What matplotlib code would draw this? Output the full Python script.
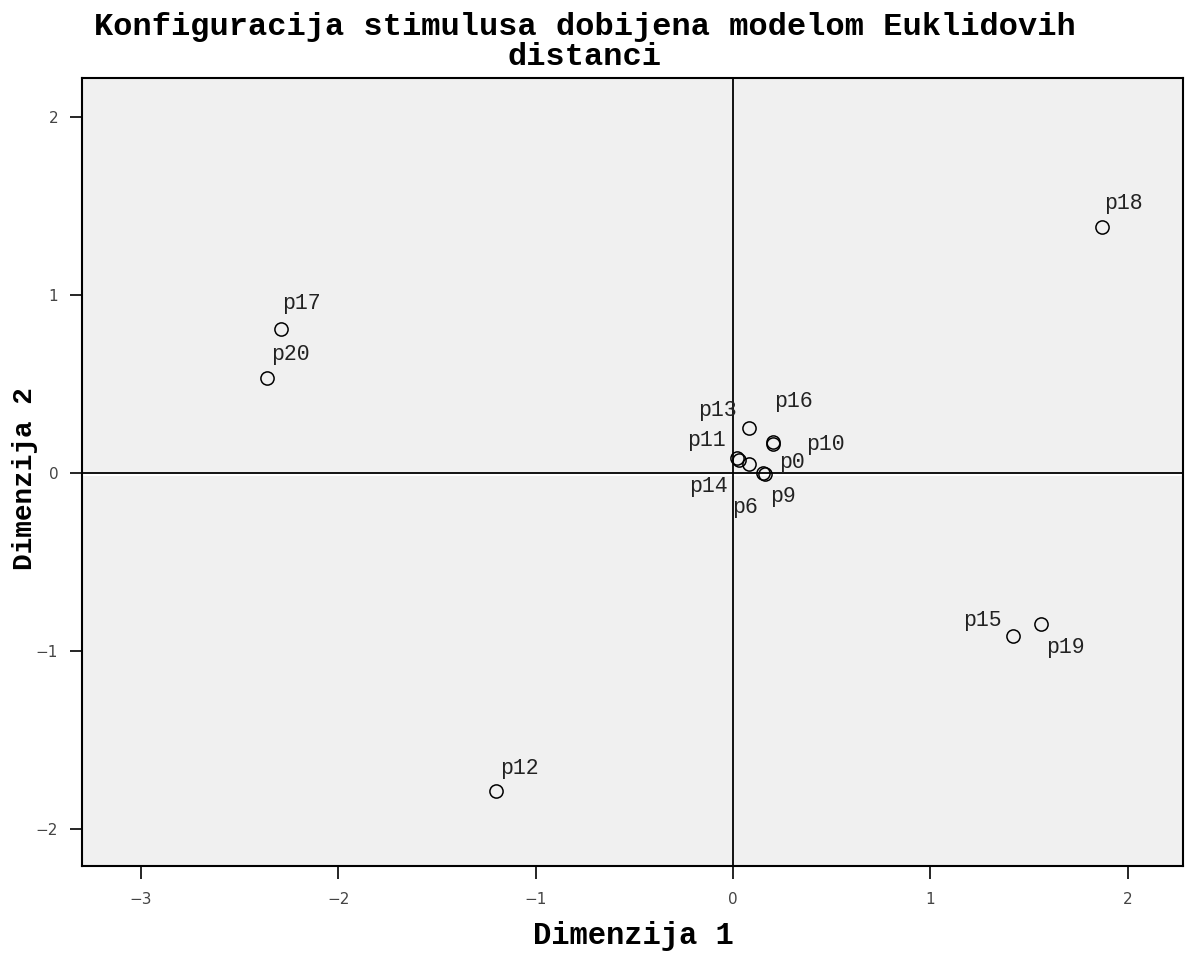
import matplotlib.pyplot as plt

# MDS stimulus configuration (Euclidean distance model)
labels = ["p0", "p6", "p9", "p10", "p11", "p12", "p13", "p14",
          "p15", "p16", "p17", "p18", "p19", "p20"]
dim1 = [0.15, 0.08, 0.16, 0.20, 0.02, -1.20, 0.08, 0.03,
        1.42, 0.20, -2.29, 1.87, 1.56, -2.36]
dim2 = [0.00, 0.05, -0.01, 0.16, 0.08, -1.79, 0.25, 0.07,
        -0.92, 0.17, 0.81, 1.38, -0.85, 0.53]

# label offsets in pixels (layout only)
offsets = {
    "p0": (16, 10), "p6": (-17, -44), "p9": (5, -22), "p10": (34, 0),
    "p11": (-50, 18), "p12": (4, 23), "p13": (-51, 18), "p14": (-50, -26),
    "p15": (-50, 16), "p16": (2, 41), "p17": (1, 25), "p18": (2, 24),
    "p19": (5, -24), "p20": (4, 24),
}

fig = plt.figure(figsize=(11.86, 9.58), dpi=100)
ax = fig.add_axes([0.069, 0.096, 0.9285, 0.823])
ax.set_facecolor("#f0f0f0")

ax.axhline(-0.012, color="white", lw=1.5, zorder=1.5)
ax.axhline(0, color="black", lw=1.3, zorder=2)
ax.axvline(0, color="black", lw=1.3, zorder=2)

ax.plot(dim1, dim2, "o", ms=9.5, mfc="none", mec="black", mew=1.1, zorder=3)
for lab, x, y in zip(labels, dim1, dim2):
    dx, dy = offsets[lab]
    ax.annotate(lab, (x, y), xytext=(dx * 0.72, dy * 0.72),
                textcoords="offset points", family="Liberation Mono",
                fontsize=15.5, ha="left", va="center", color="#222222")

ax.set_xlim(-3.30, 2.28)
ax.set_ylim(-2.21, 2.22)
ax.set_xticks([-3, -2, -1, 0, 1, 2])
ax.set_yticks([-2, -1, 0, 1, 2])
ax.tick_params(direction="out", length=9, width=1.2, labelsize=11,
               colors="black", labelcolor="#444444")
ax.tick_params(axis="x", pad=10)
ax.tick_params(axis="y", pad=8)
for s in ax.spines.values():
    s.set_linewidth(1.5)

fig.text(0.493, 0.987, "Konfiguracija stimulusa dobijena modelom Euklidovih\ndistanci",
         ha="center", va="top", family="Liberation Mono", fontweight="bold",
         fontsize=23, linespacing=0.97)
fig.text(0.534, 0.007, "Dimenzija 1", ha="center", va="bottom",
         family="Liberation Mono", fontweight="bold", fontsize=22)
fig.text(0.01, 0.5, "Dimenzija 2", ha="left", va="center", rotation=90,
         family="Liberation Mono", fontweight="bold", fontsize=20)

fig.savefig("out.png", dpi=100)
